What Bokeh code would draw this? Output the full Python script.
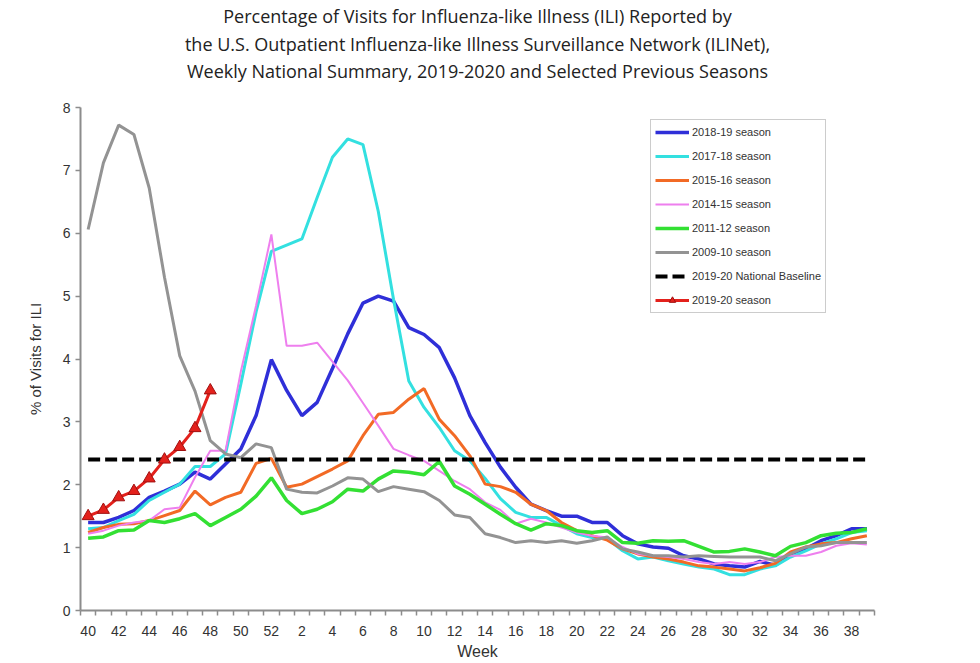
import numpy as np
from bokeh.plotting import figure
from bokeh.models import Range1d, FixedTicker, Title, Legend, LegendItem, ColumnDataSource
from bokeh.embed import file_html
from bokeh.resources import INLINE

# Surveillance weeks, October through September
weeks = [40, 41, 42, 43, 44, 45, 46, 47, 48, 49, 50, 51, 52,
         1, 2, 3, 4, 5, 6, 7, 8, 9, 10, 11, 12, 13, 14, 15, 16, 17, 18, 19, 20,
         21, 22, 23, 24, 25, 26, 27, 28, 29, 30, 31, 32, 33, 34, 35, 36, 37, 38, 39]

# % of visits for ILI by season
s2018_19 = [1.40, 1.40, 1.48, 1.59, 1.80, 1.90, 2.01, 2.20, 2.09, 2.33, 2.57, 3.10, 3.99,
            3.50, 3.10, 3.31, 3.85, 4.40, 4.89, 5.00, 4.92, 4.50, 4.39, 4.18, 3.70, 3.10, 2.67, 2.28, 1.96, 1.69, 1.59, 1.50, 1.50,
            1.40, 1.40, 1.19, 1.06, 1.01, 0.99, 0.87, 0.82, 0.74, 0.71, 0.69, 0.78, 0.72, 0.90, 0.98, 1.11, 1.19, 1.30, 1.30]
s2017_18 = [1.30, 1.32, 1.43, 1.53, 1.75, 1.88, 2.01, 2.29, 2.29, 2.49, 3.60, 4.75, 5.71,
            5.81, 5.91, 6.57, 7.21, 7.50, 7.41, 6.35, 4.95, 3.65, 3.23, 2.91, 2.54, 2.38, 2.10, 1.78, 1.56, 1.48, 1.48, 1.35, 1.22,
            1.16, 1.14, 0.95, 0.82, 0.85, 0.79, 0.74, 0.69, 0.66, 0.57, 0.57, 0.66, 0.71, 0.85, 0.95, 1.06, 1.14, 1.24, 1.27]
s2015_16 = [1.24, 1.32, 1.37, 1.38, 1.43, 1.51, 1.59, 1.90, 1.68, 1.80, 1.88, 2.34, 2.42,
            1.96, 2.01, 2.13, 2.25, 2.38, 2.78, 3.12, 3.15, 3.36, 3.53, 3.04, 2.78, 2.46, 2.01, 1.97, 1.88, 1.69, 1.59, 1.40, 1.27,
            1.19, 1.12, 0.98, 0.90, 0.85, 0.82, 0.77, 0.71, 0.69, 0.66, 0.63, 0.68, 0.75, 0.93, 1.01, 1.06, 1.08, 1.14, 1.19]
s2014_15 = [1.22, 1.27, 1.35, 1.40, 1.43, 1.61, 1.64, 2.12, 2.54, 2.54, 3.80, 4.85, 5.98,
            4.21, 4.21, 4.26, 3.96, 3.66, 3.30, 2.94, 2.57, 2.47, 2.38, 2.22, 2.06, 1.93, 1.72, 1.60, 1.38, 1.46, 1.40, 1.32, 1.24,
            1.19, 1.16, 1.01, 0.90, 0.87, 0.85, 0.82, 0.77, 0.74, 0.77, 0.74, 0.77, 0.85, 0.87, 0.87, 0.93, 1.03, 1.07, 1.05]
s2011_12 = [1.15, 1.17, 1.27, 1.28, 1.43, 1.40, 1.46, 1.54, 1.35, 1.48, 1.61, 1.82, 2.11,
            1.75, 1.54, 1.61, 1.73, 1.93, 1.90, 2.09, 2.22, 2.20, 2.16, 2.37, 1.98, 1.85, 1.69, 1.53, 1.38, 1.28, 1.38, 1.35, 1.27,
            1.24, 1.27, 1.08, 1.07, 1.11, 1.10, 1.11, 1.02, 0.93, 0.94, 0.98, 0.93, 0.87, 1.02, 1.08, 1.19, 1.23, 1.24, 1.30]
s2009_10 = [6.06, 7.12, 7.72, 7.57, 6.72, 5.30, 4.05, 3.49, 2.70, 2.49, 2.43, 2.65, 2.59,
            1.93, 1.88, 1.87, 1.98, 2.11, 2.09, 1.89, 1.97, 1.93, 1.89, 1.75, 1.52, 1.48, 1.22, 1.16, 1.08, 1.11, 1.08, 1.11, 1.07,
            1.11, 1.17, 0.98, 0.93, 0.87, 0.87, 0.85, 0.87, 0.86, 0.85, 0.85, 0.85, 0.79, 0.90, 1.01, 1.03, 1.08, 1.08, 1.08]
s2019_20 = [1.5, 1.6, 1.8, 1.9, 2.1, 2.4, 2.6, 2.9, 3.5]
baseline = 2.4

title_lines = [
    "Percentage of Visits for Influenza-like Illness (ILI) Reported by",
    "the U.S. Outpatient Influenza-like Illness Surveillance Network (ILINet),",
    "Weekly National Summary, 2019-2020 and Selected Previous Seasons",
]

idx = np.arange(len(weeks))

p = figure(width=980, height=663, output_backend="svg", toolbar_location=None,
           x_range=Range1d(-0.5, len(weeks) - 0.5), y_range=Range1d(0, 8),
           min_border_left=80, min_border_right=106, min_border_top=106, min_border_bottom=53)
p.outline_line_color = None
p.xgrid.visible = False
p.ygrid.visible = False
p.background_fill_color = "white"
p.border_fill_color = "white"

AX = "#8c8c8c"
TXT = "#333333"

# x axis: labels on every other week, tick marks between weeks
xt = FixedTicker(ticks=list(idx[::2]), minor_ticks=list(np.arange(-0.5, len(weeks), 1.0)))
p.xaxis.ticker = xt
p.xaxis.major_label_overrides = {int(i): str(weeks[i]) for i in idx[::2]}
p.xaxis.major_tick_out = 0
p.xaxis.major_tick_in = 0
p.xaxis.minor_tick_out = 5
p.xaxis.minor_tick_in = 0
p.xaxis.major_label_standoff = 10
p.xaxis.axis_label = "Week"
p.xaxis.axis_label_standoff = 4
p.yaxis.ticker = FixedTicker(ticks=list(range(0, 9)), minor_ticks=[])
p.yaxis.major_tick_out = 5
p.yaxis.major_tick_in = 0
p.yaxis.major_label_standoff = 5
p.yaxis.axis_label = "% of Visits for ILI"
p.yaxis.axis_label_standoff = 16
for ax in (p.xaxis, p.yaxis):
    ax.axis_line_color = AX
    ax.axis_line_width = 2
    ax.major_tick_line_color = AX
    ax.minor_tick_line_color = AX
    ax.major_tick_line_width = 1.5
    ax.minor_tick_line_width = 1.5
    ax.major_label_text_font = "Liberation Sans"
    ax.major_label_text_font_size = "14px"
    ax.major_label_text_color = TXT
    ax.axis_label_text_font = "Liberation Sans"
    ax.axis_label_text_font_style = "normal"
    ax.axis_label_text_color = TXT
p.xaxis.axis_label_text_font_size = "16px"
p.yaxis.axis_label_text_font_size = "15px"

series = [
    ("2018-19 season", s2018_19, "#2f2fd8", 3.5),
    ("2017-18 season", s2017_18, "#33e0e0", 3),
    ("2015-16 season", s2015_16, "#f26a25", 3),
    ("2014-15 season", s2014_15, "#ee7fee", 2),
    ("2011-12 season", s2011_12, "#33e033", 3.5),
    ("2009-10 season", s2009_10, "#939393", 3),
]

items = []
for name, vals, color, w in series:
    src = ColumnDataSource(dict(x=idx[:len(vals)], y=vals))
    r = p.line("x", "y", source=src, line_color=color, line_width=w)
    items.append(LegendItem(label=name, renderers=[r]))

rb = p.line([idx[0], idx[-1]], [baseline, baseline], line_color="black",
            line_width=4, line_dash="12 5")
items.append(LegendItem(label="2019-20 National Baseline", renderers=[rb]))

cur = ColumnDataSource(dict(x=idx[:len(s2019_20)], y=s2019_20))
rl = p.line("x", "y", source=cur, line_color="#e3211c", line_width=3)
rm = p.scatter("x", "y", source=cur, marker="triangle", size=12,
               fill_color="#e3211c", line_color="#a01010", line_width=1)
items.append(LegendItem(label="2019-20 season", renderers=[rl, rm]))

legend = Legend(items=items, location=(570, 297), orientation="vertical",
                border_line_color="#9a9a9a", border_line_width=1,
                background_fill_color="white", background_fill_alpha=1,
                padding=4, spacing=8, margin=0,
                glyph_width=34, glyph_height=16, label_height=16, label_standoff=3,
                label_text_font="Liberation Sans", label_text_font_size="11px",
                label_text_color=TXT)
p.add_layout(legend, "center")

# three-line heading: the main title sits on top, added titles stack beneath it,
# and a blank title nearest the plot keeps a gap above the plot area
def style_title(t, standoff, size="18px"):
    t.align = "center"
    t.offset = 16
    t.text_font = "Open Sans"
    t.text_font_size = size
    t.text_font_style = "normal"
    t.text_color = "#222222"
    t.standoff = standoff

p.title.text = title_lines[0]
style_title(p.title, 3)
gap = Title(text=" ")
style_title(gap, 0, "16px")
p.add_layout(gap, "above")
t3 = Title(text=title_lines[2])
style_title(t3, 1)
p.add_layout(t3, "above")
t2 = Title(text=title_lines[1])
style_title(t2, 1)
p.add_layout(t2, "above")

open("out.html", "w").write(file_html(p, INLINE))
